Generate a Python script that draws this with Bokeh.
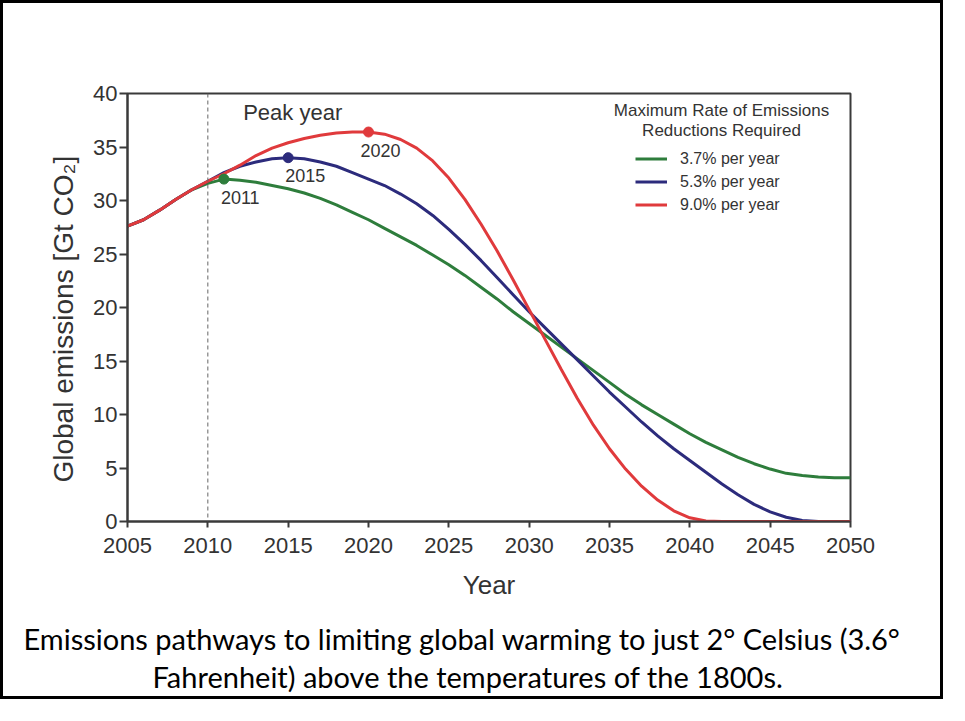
from bokeh.plotting import figure
from bokeh.models import Range1d, Span, Label, Legend, LegendItem, ColumnDataSource, FixedTicker, Title
from bokeh.core.properties import value
from bokeh.embed import file_html
from bokeh.resources import INLINE

# ---------------- data ----------------
years = list(range(2005, 2051))
rate_3_7 = [27.6, 28.2, 29.1, 30.1, 31.0,
            31.6, 32.0, 31.9, 31.7, 31.4,
            31.1, 30.7, 30.2, 29.6, 28.9,
            28.2, 27.4, 26.6, 25.8, 24.9,
            24.0, 23.0, 21.9, 20.8, 19.6,
            18.5, 17.4, 16.3, 15.2, 14.1,
            13.0, 11.9, 10.9, 10.0, 9.1,
            8.2, 7.4, 6.7, 6.0, 5.4,
            4.9, 4.5, 4.3, 4.15, 4.1,
            4.1]
rate_5_3 = [27.6, 28.2, 29.1, 30.1, 31.0,
            31.8, 32.6, 33.2, 33.6, 33.9,
            34.0, 33.9, 33.6, 33.2, 32.6,
            32.0, 31.4, 30.6, 29.7, 28.6,
            27.3, 25.9, 24.4, 22.8, 21.2,
            19.6, 18.1, 16.6, 15.1, 13.6,
            12.1, 10.7, 9.3, 8.0, 6.8,
            5.7, 4.6, 3.5, 2.5, 1.6,
            0.9, 0.4, 0.1, 0.0, 0.0,
            0.0]
rate_9_0 = [27.6, 28.2, 29.1, 30.1, 31.0,
            31.8, 32.5, 33.3, 34.2, 34.9,
            35.4, 35.8, 36.1, 36.3, 36.4,
            36.4, 36.2, 35.7, 34.9, 33.7,
            32.1, 30.1, 27.8, 25.3, 22.6,
            19.8, 17.0, 14.2, 11.5, 9.0,
            6.8, 4.9, 3.3, 2.0, 1.0,
            0.35, 0.05, 0.0, 0.0, 0.0,
            0.0, 0.0, 0.0, 0.0, 0.0,
            0.0]
series_labels = ["3.7% per year", "5.3% per year", "9.0% per year"]
peak_years = [2011, 2015, 2020]
peak_values = [32.0, 34.0, 36.4]
peak_labels = ["2011", "2015", "2020"]
x_ticks = [2005, 2010, 2015, 2020, 2025, 2030, 2035, 2040, 2045, 2050]
y_ticks = [0, 5, 10, 15, 20, 25, 30, 35, 40]
reference_year = 2010
caption_lines = ["Emissions pathways to limiting global warming to just 2\u00b0 Celsius (3.6\u00b0",
                 "Fahrenheit) above the temperatures of the 1800s."]

# ---------------- style ----------------
colors = ["#2e7d3c", "#2c2b7c", "#e03a3c"]
label_dx = [-3, -3, -8]
caption_offsets = [-104, 25]
caption_standoffs = [0, 3]
TXT = "#333333"
AX = "#3a3a3a"
FONT = "Liberation Sans"

p = figure(width=943, height=699,
           x_range=Range1d(2005, 2050), y_range=Range1d(0, 40),
           output_backend="svg", toolbar_location=None,
           min_border_left=124, min_border_right=96,
           min_border_top=90, min_border_bottom=181)
p.styles = {"border": "3px solid black"}
p.background_fill_color = "white"
p.border_fill_color = "white"
p.outline_line_color = AX
p.outline_line_width = 2
p.xgrid.visible = False
p.ygrid.visible = False

for ax in (p.xaxis[0], p.yaxis[0]):
    ax.axis_line_color = AX
    ax.axis_line_width = 2
    ax.major_tick_line_color = AX
    ax.major_tick_line_width = 2
    ax.major_tick_in = 0
    ax.minor_tick_line_color = None
    ax.major_label_text_font = FONT
    ax.major_label_text_font_size = "22px"
    ax.major_label_text_color = TXT
    ax.axis_label_text_font = FONT
    ax.axis_label_text_font_style = "normal"
    ax.axis_label_text_color = TXT

p.xaxis.ticker = FixedTicker(ticks=x_ticks)
p.yaxis.ticker = FixedTicker(ticks=y_ticks)
p.xaxis.major_tick_out = 6
p.xaxis.major_label_standoff = 10
p.yaxis.major_tick_out = 8
p.yaxis.major_label_standoff = 2
p.xaxis.axis_label = "Year"
p.xaxis.axis_label_text_font_size = "26px"
p.xaxis.axis_label_standoff = 14
p.yaxis.axis_label = "Global emissions [Gt CO\u2082]\u00a0\u00a0\u00a0"
p.yaxis.axis_label_text_font_size = "28px"
p.yaxis.axis_label_standoff = 11

p.add_layout(Span(location=reference_year, dimension="height",
                  line_color="#666666", line_dash="4 3", line_width=1))

renderers = []
for ys, c in zip([rate_3_7, rate_5_3, rate_9_0], colors):
    r = p.line(years, ys, line_color=c, line_width=3)
    renderers.append(r)

peak_src = ColumnDataSource(dict(x=peak_years, y=peak_values, t=peak_labels,
                                 c=colors, dx=label_dx))
p.scatter("x", "y", source=peak_src, size=10, fill_color="c", line_color="c")
p.text("x", "y", text="t", source=peak_src, x_offset="dx", y_offset=18,
       text_font=value(FONT), text_font_size="18px", text_color=TXT,
       text_baseline="alphabetic", text_align="left")

legend = Legend(items=[LegendItem(label=l, renderers=[r]) for l, r in zip(series_labels, renderers)],
                location=(508, 305), padding=0, margin=0, spacing=0,
                glyph_width=32, glyph_height=23, label_height=23, label_standoff=13,
                label_text_font=FONT, label_text_font_size="16px", label_text_color=TXT,
                border_line_color=None, background_fill_alpha=0)
p.add_layout(legend)

for txt, yy in [("Maximum Rate of Emissions", 38.41), ("Reductions Required", 36.54)]:
    p.add_layout(Label(x=2041.97, y=yy, text=txt, text_align="center",
                       text_baseline="alphabetic", text_font=FONT,
                       text_font_size="17px", text_color=TXT))

p.add_layout(Label(x=2012.2, y=38.25, text="Peak year", text_align="left",
                   text_baseline="alphabetic", text_font=FONT,
                   text_font_size="22px", text_color=TXT))

# spacer between the axis label and the caption
p.add_layout(Title(text=" ", text_font_size="10px", standoff=3), "below")
for txt, off, so in zip(caption_lines, caption_offsets, caption_standoffs):
    p.add_layout(Title(text=txt, align="left", offset=off, standoff=so,
                       text_font="Lato", text_font_size="29px",
                       text_font_style="normal", text_color="black"), "below")

open("out.html", "w").write(file_html(p, INLINE))
